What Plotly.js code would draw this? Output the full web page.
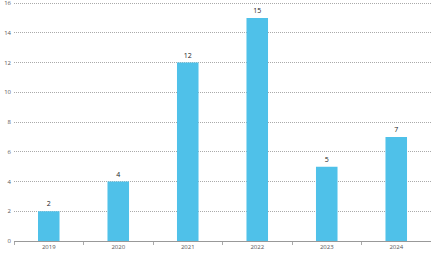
<!DOCTYPE html>
<html><head><meta charset="utf-8">
<script src="https://cdn.plot.ly/plotly-3.0.1.min.js"></script>
<style>html,body{margin:0;padding:0;background:#fff;}#c{width:431px;height:254px;}</style>
</head><body><div id="c"></div>
<script>
const years = ['2019','2020','2021','2022','2023','2024'];
const values = [2, 4, 12, 15, 5, 7];
const yTicks = [0,2,4,6,8,10,12,14,16];

Plotly.newPlot('c', [{
  type: 'bar', x: years, y: values,
  marker: {color: '#4FC1E9'},
  text: values.map(String), textposition: 'outside',
  textfont: {size: 7, color: '#222', family: 'Open Sans, sans-serif'},
  cliponaxis: false
}], {
  width: 431, height: 254,
  margin: {l: 14, r: 0, t: 2, b: 13},
  paper_bgcolor: '#fff', plot_bgcolor: '#fff',
  bargap: 0.69,
  font: {family: 'Open Sans, sans-serif', size: 6, color: '#555'},
  xaxis: {type: 'category', tickson: 'boundaries', ticks: 'outside', ticklen: 3, tickcolor: '#aaa',
          showline: true, linecolor: '#999', linewidth: 1, showgrid: false, tickfont: {size: 6, color: '#555'}},
  yaxis: {range: [0, 16.07], tickvals: yTicks, ticktext: yTicks.map(String), showgrid: true,
          gridcolor: '#aaa', griddash: '1px,1px', gridwidth: 1, zeroline: false, showline: false,
          ticks: '', ticklabelstandoff: 2, ticklabeloverflow: 'allow', tickfont: {size: 6, color: '#555'}},
  showlegend: false
}, {displayModeBar: false, staticPlot: true});
</script></body></html>
